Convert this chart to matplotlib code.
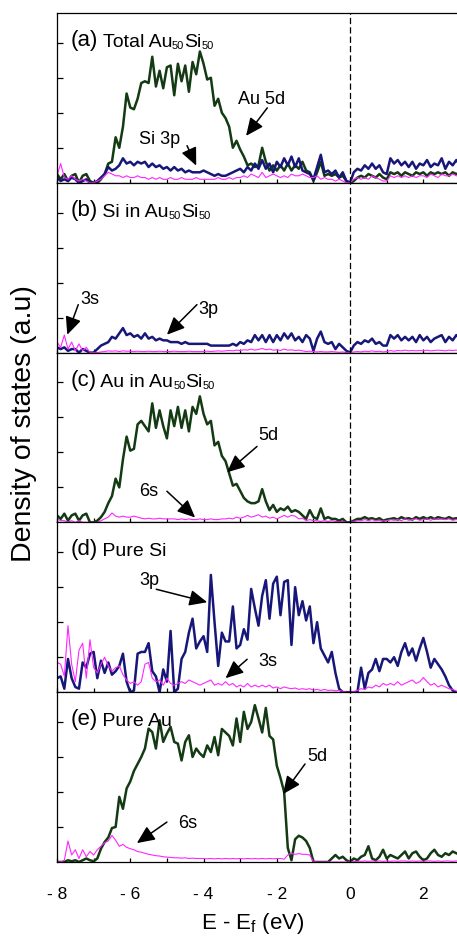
import matplotlib
matplotlib.use('Agg')
import matplotlib.pyplot as plt
import numpy as np

plt.rcParams['font.family'] = 'Liberation Sans'
plt.rcParams['mathtext.fontset'] = 'custom'
plt.rcParams['mathtext.rm'] = 'Liberation Sans'
plt.rcParams['mathtext.it'] = 'Liberation Sans:italic'

# energy grid, E - Ef in eV (0.1 eV steps, -8 ... 3)
energy = np.round(np.arange(-8.0, 3.05, 0.1), 1)

# (a) total Au50Si50
tot_au5d = [0.25, 0.10, 0.25, 0.05, 0.20, 0.25, 0.00, 0.20, 0.25, 0.05,
            0.00, 0.00, 0.10, 0.25, 0.55, 0.60, 1.30, 1.00, 1.60, 2.55,
            2.15, 2.10, 2.40, 2.85, 2.90, 2.85, 3.60, 2.75, 3.20, 2.70,
            3.30, 3.35, 2.50, 3.40, 2.90, 3.35, 2.60, 3.45, 3.10, 3.75,
            3.40, 2.95, 3.00, 2.20, 2.40, 2.00, 1.85, 1.60, 1.00, 1.20,
            0.95, 0.75, 0.50, 0.55, 0.45, 0.50, 1.00, 0.60, 0.35, 0.50,
            0.35, 0.50, 0.35, 0.55, 0.35, 0.50, 0.40, 0.60, 0.35, 0.30,
            0.05, 0.30, 0.60, 0.20, 0.25, 0.20, 0.25, 0.15, 0.20, 0.05,
            0.00, 0.05, 0.15, 0.20, 0.15, 0.25, 0.20, 0.15, 0.25, 0.15,
            0.10, 0.30, 0.25, 0.30, 0.20, 0.30, 0.25, 0.20, 0.30, 0.25,
            0.30, 0.20, 0.30, 0.25, 0.30, 0.25, 0.30, 0.20, 0.30, 0.25,
            0.30]
tot_si3p = [0.15, 0.05, 0.10, 0.05, 0.15, 0.10, 0.00, 0.05, 0.10, 0.00,
            0.00, 0.05, 0.15, 0.25, 0.45, 0.35, 0.40, 0.50, 0.70, 0.55,
            0.60, 0.50, 0.60, 0.55, 0.60, 0.45, 0.55, 0.45, 0.50, 0.40,
            0.45, 0.35, 0.45, 0.35, 0.40, 0.30, 0.35, 0.30, 0.30, 0.30,
            0.35, 0.30, 0.25, 0.20, 0.25, 0.20, 0.20, 0.25, 0.30, 0.35,
            0.40, 0.30, 0.45, 0.35, 0.55, 0.40, 0.65, 0.40, 0.55, 0.30,
            0.60, 0.45, 0.70, 0.50, 0.75, 0.45, 0.70, 0.35, 0.30, 0.25,
            0.10, 0.45, 0.80, 0.30, 0.35, 0.25, 0.35, 0.15, 0.30, 0.05,
            0.00, 0.30, 0.40, 0.35, 0.50, 0.40, 0.55, 0.40, 0.50, 0.30,
            0.25, 0.70, 0.55, 0.65, 0.50, 0.60, 0.45, 0.60, 0.40, 0.55,
            0.50, 0.65, 0.45, 0.55, 0.50, 0.70, 0.40, 0.60, 0.50, 0.65,
            0.50]
tot_s = [0.20, 0.55, 0.15, 0.10, 0.20, 0.10, 0.05, 0.10, 0.05, 0.00,
         0.00, 0.05, 0.10, 0.20, 0.30, 0.25, 0.20, 0.20, 0.15, 0.20,
         0.15, 0.15, 0.20, 0.15, 0.15, 0.10, 0.15, 0.10, 0.15, 0.10,
         0.10, 0.15, 0.10, 0.10, 0.15, 0.10, 0.10, 0.10, 0.15, 0.10,
         0.10, 0.10, 0.10, 0.10, 0.15, 0.10, 0.10, 0.15, 0.10, 0.15,
         0.15, 0.20, 0.15, 0.25, 0.20, 0.15, 0.30, 0.15, 0.20, 0.25,
         0.20, 0.15, 0.20, 0.15, 0.25, 0.20, 0.20, 0.25, 0.20, 0.15,
         0.15, 0.20, 0.10, 0.15, 0.10, 0.10, 0.05, 0.10, 0.05, 0.00,
         0.00, 0.10, 0.15, 0.10, 0.15, 0.10, 0.20, 0.15, 0.10, 0.05,
         0.05, 0.20, 0.15, 0.20, 0.15, 0.20, 0.15, 0.20, 0.15, 0.20,
         0.20, 0.15, 0.25, 0.20, 0.15, 0.25, 0.20, 0.20, 0.25, 0.20,
         0.20]

# (b) Si in Au50Si50
si_3p = [0.15, 0.10, 0.15, 0.05, 0.10, 0.10, 0.00, 0.10, 0.05, 0.00,
         0.00, 0.10, 0.20, 0.25, 0.30, 0.45, 0.40, 0.55, 0.70, 0.50,
         0.55, 0.45, 0.50, 0.40, 0.55, 0.40, 0.45, 0.35, 0.40, 0.35,
         0.35, 0.30, 0.30, 0.30, 0.25, 0.30, 0.25, 0.25, 0.25, 0.25,
         0.25, 0.25, 0.20, 0.20, 0.20, 0.20, 0.20, 0.20, 0.25, 0.20,
         0.30, 0.25, 0.35, 0.30, 0.50, 0.35, 0.50, 0.30, 0.50, 0.30,
         0.50, 0.35, 0.55, 0.40, 0.55, 0.35, 0.45, 0.30, 0.50, 0.40,
         0.05, 0.40, 0.60, 0.30, 0.25, 0.30, 0.10, 0.25, 0.15, 0.05,
         0.00, 0.20, 0.30, 0.25, 0.35, 0.30, 0.40, 0.25, 0.30, 0.20,
         0.20, 0.50, 0.40, 0.50, 0.35, 0.45, 0.35, 0.45, 0.30, 0.50,
         0.35, 0.45, 0.30, 0.40, 0.45, 0.50, 0.30, 0.45, 0.35, 0.50,
         0.40]
si_3s = [0.30, 0.15, 0.50, 0.10, 0.30, 0.05, 0.25, 0.05, 0.15, 0.00,
         0.00, 0.00, 0.02, 0.03, 0.05, 0.04, 0.05, 0.03, 0.05, 0.04,
         0.04, 0.03, 0.04, 0.03, 0.03, 0.04, 0.03, 0.03, 0.04, 0.03,
         0.03, 0.03, 0.04, 0.03, 0.03, 0.03, 0.04, 0.03, 0.03, 0.03,
         0.03, 0.04, 0.03, 0.04, 0.05, 0.04, 0.05, 0.06, 0.05, 0.07,
         0.06, 0.08, 0.07, 0.10, 0.07, 0.09, 0.12, 0.08, 0.10, 0.07,
         0.08, 0.06, 0.10, 0.07, 0.08, 0.06, 0.07, 0.05, 0.03, 0.04,
         0.03, 0.02, 0.03, 0.02, 0.02, 0.03, 0.02, 0.01, 0.02, 0.00,
         0.00, 0.02, 0.03, 0.02, 0.04, 0.03, 0.05, 0.03, 0.04, 0.02,
         0.03, 0.06, 0.04, 0.06, 0.05, 0.07, 0.05, 0.06, 0.05, 0.06,
         0.05, 0.07, 0.05, 0.06, 0.07, 0.06, 0.05, 0.07, 0.06, 0.07,
         0.06]

# (c) Au in Au50Si50
au_5d = [0.20, 0.10, 0.25, 0.05, 0.20, 0.25, 0.05, 0.20, 0.25, 0.00,
         0.00, 0.05, 0.15, 0.30, 0.55, 0.75, 1.25, 1.00, 1.80, 2.45,
         2.05, 2.10, 2.80, 2.90, 2.75, 2.60, 3.40, 2.70, 3.20, 2.75,
         2.40, 3.20, 2.75, 3.30, 2.70, 3.20, 2.60, 3.30, 3.10, 3.60,
         3.10, 2.80, 2.90, 2.20, 2.30, 1.90, 1.75, 1.40, 1.05, 1.10,
         0.90, 0.70, 0.60, 0.55, 0.55, 0.60, 0.95, 0.60, 0.35, 0.50,
         0.30, 0.40, 0.35, 0.45, 0.30, 0.35, 0.30, 0.20, 0.10, 0.35,
         0.15, 0.10, 0.40, 0.10, 0.15, 0.10, 0.10, 0.05, 0.10, 0.00,
         0.00, 0.05, 0.10, 0.10, 0.15, 0.10, 0.12, 0.08, 0.12, 0.05,
         0.08, 0.10, 0.12, 0.08, 0.15, 0.10, 0.12, 0.08, 0.15, 0.10,
         0.15, 0.10, 0.15, 0.10, 0.15, 0.12, 0.10, 0.15, 0.10, 0.12,
         0.10]
au_6s = [0.10, 0.05, 0.05, 0.00, 0.05, 0.00, 0.05, 0.00, 0.00, 0.00,
         0.00, 0.00, 0.05, 0.10, 0.15, 0.27, 0.18, 0.15, 0.18, 0.15,
         0.15, 0.18, 0.15, 0.12, 0.10, 0.12, 0.10, 0.10, 0.12, 0.10,
         0.10, 0.10, 0.10, 0.08, 0.10, 0.08, 0.10, 0.08, 0.08, 0.10,
         0.08, 0.08, 0.10, 0.08, 0.08, 0.10, 0.10, 0.12, 0.10, 0.15,
         0.12, 0.15, 0.20, 0.15, 0.18, 0.22, 0.15, 0.18, 0.12, 0.15,
         0.10, 0.15, 0.20, 0.15, 0.20, 0.18, 0.10, 0.12, 0.05, 0.08,
         0.05, 0.05, 0.03, 0.05, 0.03, 0.05, 0.03, 0.02, 0.03, 0.00,
         0.00, 0.03, 0.05, 0.05, 0.08, 0.05, 0.08, 0.05, 0.06, 0.04,
         0.05, 0.08, 0.06, 0.08, 0.05, 0.10, 0.06, 0.08, 0.10, 0.06,
         0.08, 0.10, 0.06, 0.10, 0.08, 0.10, 0.08, 0.10, 0.06, 0.08,
         0.08]

# (d) pure Si
psi_3p = [0.40, 0.45, 0.10, 0.95, 0.40, 0.15, 0.10, 0.85, 0.70, 1.10,
          1.15, 0.40, 0.90, 0.55, 0.85, 0.50, 0.60, 0.75, 1.10, 0.30,
          0.00, 0.05, 1.10, 1.15, 1.15, 1.40, 0.60, 0.45, 0.00, 0.65,
          0.30, 1.75, 0.00, 0.10, 0.95, 1.15, 1.70, 2.10, 1.25, 1.45,
          1.60, 1.15, 3.35, 2.00, 0.75, 1.70, 1.45, 1.45, 2.45, 1.25,
          1.35, 1.80, 1.50, 2.95, 2.40, 1.90, 2.75, 3.20, 2.10, 3.10,
          3.30, 2.20, 3.15, 3.20, 1.35, 3.00, 2.20, 2.60, 2.05, 2.45,
          1.40, 2.00, 1.25, 1.05, 0.85, 1.15, 0.55, 0.10, 0.00, 0.00,
          0.00, 0.00, 0.00, 0.70, 0.10, 0.55, 0.65, 0.95, 0.60, 0.95,
          0.95, 0.85, 1.00, 0.75, 1.15, 1.40, 1.05, 1.25, 0.90, 1.25,
          1.55, 1.15, 0.70, 0.95, 0.80, 0.65, 0.45, 0.20, 0.05, 0.00,
          0.00]
psi_3s = [0.85, 0.80, 0.45, 1.90, 0.80, 0.30, 1.20, 1.40, 0.40, 1.50,
          0.70, 0.55, 0.80, 1.00, 0.75, 0.60, 0.70, 0.75, 0.50, 0.35,
          0.25, 0.30, 0.20, 0.30, 0.80, 0.85, 0.40, 0.30, 0.35, 0.20,
          0.40, 0.25, 0.20, 0.25, 0.30, 0.25, 0.35, 0.30, 0.25, 0.20,
          0.25, 0.30, 0.35, 0.20, 0.25, 0.20, 0.30, 0.20, 0.25, 0.15,
          0.20, 0.15, 0.25, 0.15, 0.20, 0.15, 0.20, 0.15, 0.20, 0.12,
          0.15, 0.10, 0.15, 0.12, 0.10, 0.12, 0.08, 0.10, 0.08, 0.10,
          0.06, 0.08, 0.05, 0.08, 0.05, 0.06, 0.04, 0.05, 0.03, 0.00,
          0.00, 0.02, 0.05, 0.10, 0.08, 0.15, 0.12, 0.20, 0.15, 0.25,
          0.20, 0.25, 0.20, 0.30, 0.20, 0.25, 0.30, 0.35, 0.25, 0.30,
          0.42, 0.30, 0.20, 0.25, 0.15, 0.20, 0.15, 0.10, 0.08, 0.03,
          0.02]

# (e) pure Au
pau_5d = [0.00, 0.00, 0.00, 0.05, 0.02, 0.05, 0.00, 0.05, 0.10, 0.05,
          0.02, 0.10, 0.38, 0.57, 0.70, 0.97, 1.00, 1.86, 1.52, 2.10,
          2.30, 2.60, 2.80, 3.00, 3.24, 3.81, 3.71, 3.24, 4.05, 3.43,
          3.67, 3.86, 3.43, 3.38, 2.90, 3.43, 3.62, 3.00, 3.24, 3.10,
          3.00, 3.33, 3.14, 3.57, 3.05, 3.80, 3.70, 3.60, 3.33, 4.10,
          3.43, 4.29, 3.80, 4.00, 4.48, 4.10, 3.70, 4.40, 3.60, 3.50,
          2.75, 2.40, 2.00, 0.40, 0.05, 0.65, 0.75, 0.70, 0.60, 0.40,
          0.00, 0.00, 0.00, 0.00, 0.00, 0.10, 0.20, 0.10, 0.15, 0.05,
          0.00, 0.10, 0.05, 0.15, 0.20, 0.45, 0.10, 0.05, 0.15, 0.35,
          0.10, 0.20, 0.15, 0.10, 0.20, 0.30, 0.10, 0.25, 0.30, 0.15,
          0.05, 0.10, 0.25, 0.35, 0.20, 0.15, 0.25, 0.20, 0.30, 0.25,
          0.20]
pau_6s = [0.00, 0.00, 0.05, 0.60, 0.20, 0.35, 0.10, 0.35, 0.15, 0.30,
          0.20, 0.35, 0.45, 0.55, 0.60, 0.76, 0.62, 0.45, 0.50, 0.42,
          0.38, 0.35, 0.30, 0.28, 0.25, 0.22, 0.20, 0.18, 0.17, 0.15,
          0.14, 0.13, 0.12, 0.12, 0.11, 0.12, 0.10, 0.11, 0.10, 0.10,
          0.10, 0.09, 0.10, 0.09, 0.10, 0.09, 0.10, 0.09, 0.10, 0.09,
          0.10, 0.09, 0.10, 0.09, 0.10, 0.09, 0.10, 0.09, 0.10, 0.09,
          0.10, 0.10, 0.08, 0.20, 0.25, 0.22, 0.24, 0.22, 0.22, 0.20,
          0.00, 0.00, 0.00, 0.00, 0.00, 0.00, 0.00, 0.00, 0.00, 0.00,
          0.00, 0.01, 0.02, 0.02, 0.03, 0.02, 0.03, 0.02, 0.03, 0.02,
          0.03, 0.02, 0.03, 0.02, 0.03, 0.03, 0.02, 0.03, 0.02, 0.03,
          0.02, 0.03, 0.03, 0.02, 0.03, 0.02, 0.03, 0.03, 0.02, 0.03,
          0.03]

tick_labels = ['- 8', '', '- 6', '', '- 4', '', '- 2', '', '0', '', '2', '']

GREEN = '#133a13'
BLUE = '#17177a'
PINK = '#ff26ff'

fig, axes = plt.subplots(5, 1, figsize=(4.57, 9.37), dpi=100, sharex=True)
fig.subplots_adjust(left=57/457, right=460/457, top=1-14/937,
                    bottom=1-863/937, hspace=0)

curves = [
    [(tot_au5d, GREEN), (tot_si3p, BLUE), (tot_s, PINK)],
    [(si_3p, BLUE), (si_3s, PINK)],
    [(au_5d, GREEN), (au_6s, PINK)],
    [(psi_3p, BLUE), (psi_3s, PINK)],
    [(pau_5d, GREEN), (pau_6s, PINK)],
]

titles = [
    [('(a)', 16), (' Total Au', 14), ('50', 8), ('Si', 14), ('50', 8)],
    [('(b)', 16), (' Si in Au', 14), ('50', 8), ('Si', 14), ('50', 8)],
    [('(c)', 16), (' Au in Au', 14), ('50', 8), ('Si', 14), ('50', 8)],
    [('(d)', 16), (' Pure Si', 14)],
    [('(e)', 16), (' Pure Au', 14)],
]

# panel, label, label pos, arrow tail, arrow tip
notes = [
    (0, 'Au 5d', (-3.05, 2.29), (-2.26, 2.14), (-2.84, 1.34)),
    (0, 'Si 3p', (-5.75, 1.14), (-4.45, 1.06), (-4.2, 0.49)),
    (1, '3s', (-7.36, 1.43), (-7.42, 1.37), (-7.72, 0.51)),
    (1, '3p', (-4.14, 1.14), (-4.18, 1.37), (-5.0, 0.51)),
    (2, '5d', (-2.5, 2.37), (-2.54, 2.17), (-3.36, 1.43)),
    (2, '6s', (-5.75, 0.77), (-5.0, 0.89), (-4.23, 0.14)),
    (3, '3p', (-5.75, 3.09), (-5.29, 2.94), (-3.9, 2.57)),
    (3, '3s', (-2.5, 0.77), (-2.81, 0.94), (-3.4, 0.4)),
    (4, '5d', (-1.17, 2.91), (-1.23, 2.8), (-1.83, 1.94)),
    (4, '6s', (-4.69, 1.0), (-5.0, 1.14), (-5.82, 0.54)),
]


def panel_title(ax, parts):
    prev = ax.annotate(parts[0][0], xy=(0, 1), xycoords='axes fraction',
                       xytext=(9.5, -23), textcoords='offset points',
                       fontsize=parts[0][1], ha='left', va='baseline')
    for txt, size in parts[1:]:
        prev = ax.annotate(txt, xy=(1, 0), xycoords=prev, fontsize=size,
                           ha='left', va='bottom')


for i, ax in enumerate(axes):
    for values, color in curves[i]:
        lw = 0.8 if color == PINK else 1.8
        ax.plot(energy, values, color=color, lw=lw)
    ax.axvline(0, color='k', lw=0.9, ls=(0, (5, 2.5)))
    ax.set_xlim(-8, 3)
    ax.set_ylim(0, 4.85)
    ax.set_yticks([1, 2, 3, 4])
    ax.set_yticklabels([])
    ax.set_xticks(range(-8, 4))
    ax.tick_params(direction='in', length=4, width=0.9)
    ax.tick_params(axis='x', length=3, labelsize=12.5, pad=17)
    for sp in ax.spines.values():
        sp.set_linewidth(0.9)
    panel_title(ax, titles[i])

axes[-1].set_xticklabels(tick_labels)

for i, label, pos, tail, tip in notes:
    ax = axes[i]
    ax.text(pos[0], pos[1], label, fontsize=13, ha='left', va='baseline')
    ax.annotate('', xy=tip, xytext=tail,
                arrowprops=dict(arrowstyle='-|>,head_length=0.6,head_width=0.27',
                                color='k', lw=1.1, mutation_scale=18,
                                shrinkA=0, shrinkB=0))

fig.text(253/457, 1-924/937, r'E - E$_{\mathregular{f}}$ (eV)',
         ha='center', va='center', fontsize=16)
fig.text(24/457, 1-424/937, 'Density of states (a.u)', rotation=90,
         ha='center', va='center', fontsize=20.5)

fig.savefig('out.png', dpi=100)
